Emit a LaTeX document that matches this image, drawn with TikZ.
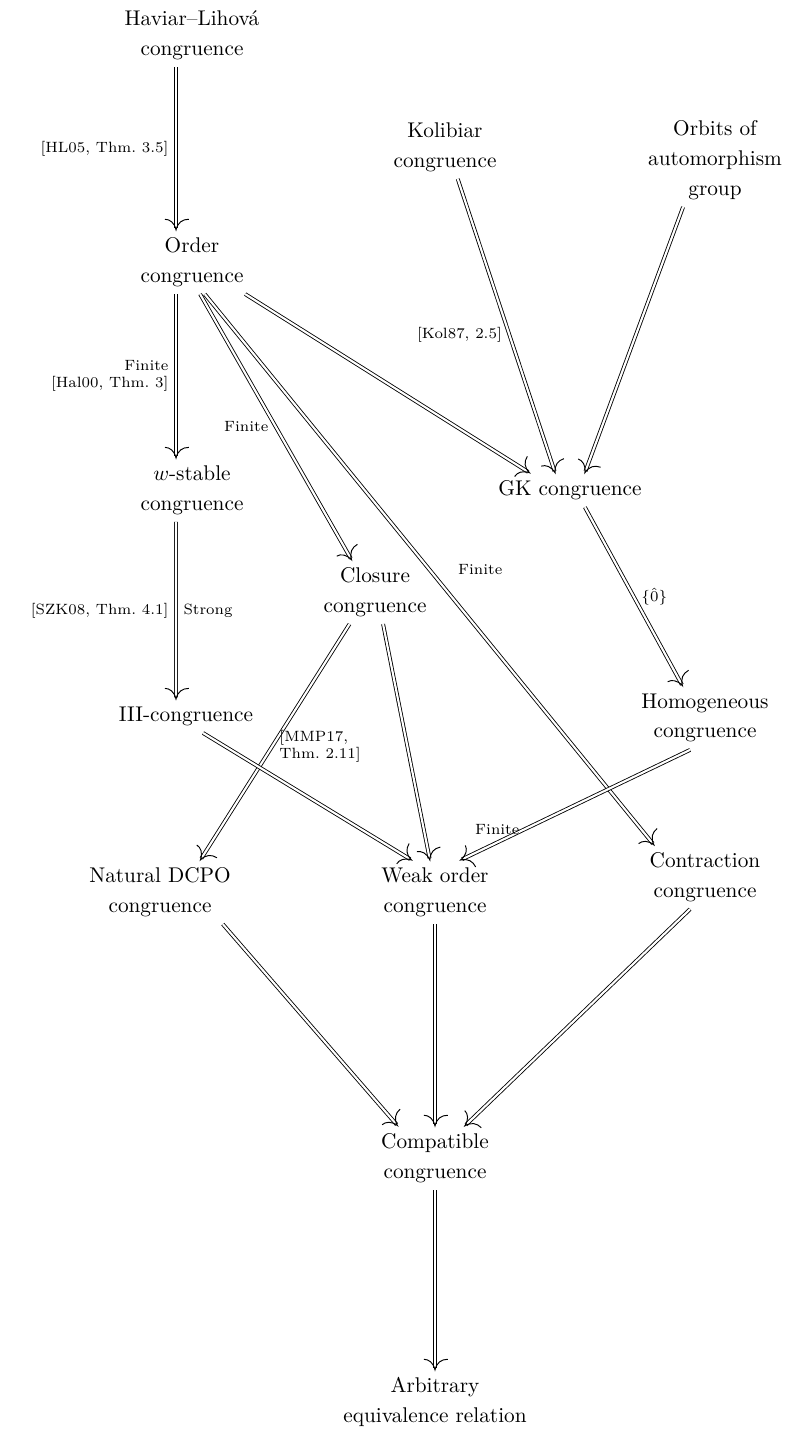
\documentclass[tikz,border=0pt]{standalone}
\usepackage{amssymb, amsmath}
\usetikzlibrary{positioning, decorations.markings}
\tikzset {
    imphead/.style={
        decoration={markings, mark=at position 1 with {
            \pgfsetlinewidth{0.45pt}
            \pgfpathmoveto{\pgfpoint{-5pt}{6pt}}
            \pgfpathcurveto{\pgfpoint{-5pt}{3pt}}{\pgfpoint{-3.5pt}{0.8pt}}{\pgfpointorigin}
            \pgfpathcurveto{\pgfpoint{-3.5pt}{-0.8pt}}{\pgfpoint{-5pt}{-3pt}}{\pgfpoint{-5pt}{-6pt}}
            \pgfusepath{stroke}}},
        postaction=decorate},
    imp/.style={double, double distance=1pt, shorten >=0.8pt, imphead},
    lbl/.style={font=\scriptsize},
    every node/.style={align=center},
    box/.style={font=\fontsize{10}{14}\selectfont}
}

\begin{document}
\begin{tikzpicture}[x=0.47pt, y=-0.47pt]
    \useasboundingbox (0,0) rectangle (787,1431);

    \node[box] (hl) at (192,35) {Haviar--Lihov\'a\\congruence};
    \node[box] (order) at (192,262) {Order\\congruence};
    \node[box] (kol) at (445,147) {Kolibiar\\congruence};
    \node[box] (orb) at (715,160) {Orbits of\\automorphism\\group};
    \node[box] (ws) at (192,490) {$w$-stable\\congruence};
    \node[box] (gk) at (570,490) {GK congruence};
    \node[box] (clos) at (375,592) {Closure\\congruence};
    \node[box] (iii) at (186,716) {III-congruence};
    \node[box] (hom) at (705,718) {Homogeneous\\congruence};
    \node[box] (nat) at (160,892) {Natural DCPO\\congruence};
    \node[box] (weak) at (435,892) {Weak order\\congruence};
    \node[box] (contr) at (705,877) {Contraction\\congruence};
    \node[box] (comp) at (435,1158) {Compatible\\congruence};
    \node[box] (arb) at (435,1402) {Arbitrary\\equivalence relation};

    \draw[imp]
    ([xshift=-7.5pt]hl.south) -- ([xshift=-7.5pt]order.north)
        node[midway, left, lbl] {[HL05, Thm.~3.5]};
    \draw[imp]
    ([xshift=-7.5pt]order.south) -- ([xshift=-7.5pt]ws.north)
        node[midway, left, lbl, align=right] {Finite\\{}[Hal00, Thm.~3]};
    \draw[imp]
    ([xshift=-7.5pt]ws.south) -- ([xshift=-4.7pt]iii.north)
        node[midway, left, lbl] {[SZK08, Thm.~4.1]}
        node[midway, right, lbl] {Strong};
    \draw[imp]
    ([xshift=3.8pt]order.south) -- ([xshift=-11pt]clos.north)
        node[midway, left, lbl] {Finite};
    \draw[imp]
    ([xshift=6pt]order.south) -- ([xshift=-24pt]contr.north)
        node[pos=.5, right=10pt, lbl] {Finite};
    \draw[imp]
    ([xshift=25pt]order.south) -- ([xshift=-19pt]gk.north);
    \draw[imp]
    ([xshift=6pt]kol.south) -- ([xshift=-7pt]gk.north)
        node[pos=.53, left, lbl] {[Kol87, 2.5]};
    \draw[imp]
    ([xshift=-15pt]orb.south) -- ([xshift=7pt]gk.north);
    \draw[imp]
    ([xshift=7pt]gk.south) -- ([xshift=-10.5pt]hom.north)
        node[midway, right, lbl] {$\{\hat{0}\}$};
    \draw[imp]
    ([xshift=-12pt]clos.south) -- ([xshift=19pt]nat.north)
        node[pos=.52, right, lbl, align=left] {[MMP17,\\Thm.~2.11]};
    \draw[imp]
    ([xshift=3.8pt]clos.south) -- ([xshift=-2.4pt]weak.north);
    \draw[imp]
    ([xshift=8pt]iii.south) -- ([xshift=-11pt]weak.north);
    \draw[imp]
    ([xshift=-7pt]hom.south) -- ([xshift=12pt]weak.north)
        node[pos=.72, left=-1pt, lbl] {Finite};
    \draw[imp]
    ([xshift=29.5pt]nat.south) -- ([xshift=-17.5pt]comp.north);
    \draw[imp]
    (weak.south) -- (comp.north);
    \draw[imp]
    ([xshift=-7pt]contr.south) -- ([xshift=14pt]comp.north);
    \draw[imp]
    (comp.south) -- (arb.north);
\end{tikzpicture}
\end{document}
